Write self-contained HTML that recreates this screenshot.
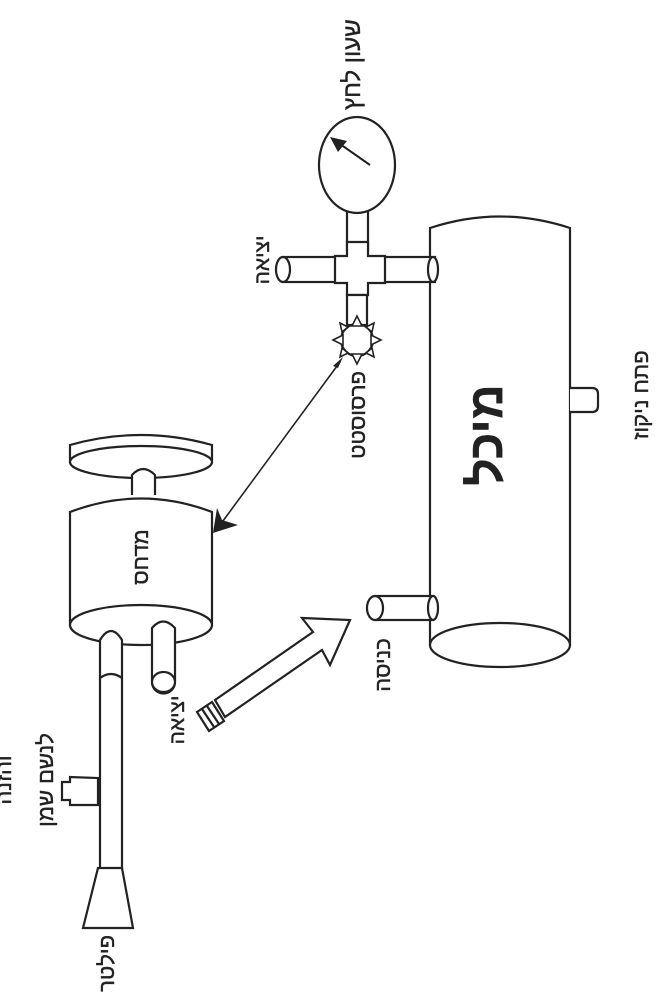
<!DOCTYPE html>
<html><head><meta charset="utf-8"><style>
html,body{margin:0;padding:0;background:#fff;}
svg{display:block}
text{font-family:"Liberation Sans","Noto Sans CJK JP",sans-serif;fill:#222;stroke:#222;stroke-width:0.4;}
</style></head><body>
<svg width="665" height="1000" viewBox="0 0 665 1000" xmlns="http://www.w3.org/2000/svg">
<g fill="#fff" stroke="#222" stroke-width="2.2">
<path d="M430,228 Q500,205 570,228 L570,645 L430,645 Z"/>
<ellipse cx="500" cy="645" rx="70" ry="22"/>
<path d="M570,388 L592,388 Q598,388 598,394 L598,406 Q598,412 592,412 L570,412"/>
<rect x="283" y="257" width="152" height="25"/>
<ellipse cx="433" cy="269.5" rx="5" ry="12.5"/>
<ellipse cx="283" cy="269.5" rx="7" ry="12.5"/>
<rect x="347" y="205" width="21" height="45"/>
<ellipse cx="357" cy="165" rx="38" ry="48"/>
<path d="M347,242 L368,242 L368,256 L385,256 L385,283 L368,283 L368,295 L347,295 L347,283 L335,283 L335,256 L347,256 Z"/>
<rect x="347" y="295" width="20" height="30"/>
<circle cx="357" cy="340" r="16"/>
<rect x="375" y="596" width="58" height="24"/>
<ellipse cx="433" cy="608" rx="5" ry="12"/>
<ellipse cx="375" cy="608" rx="8" ry="12"/>
<path d="M70,445 Q141,425 212,445 L212,462 L70,462 Z"/>
<ellipse cx="141" cy="462" rx="71" ry="16"/>
<path d="M132,495 L132,475 Q143,463 155,475 L155,495"/>
<path d="M70,512 Q141,485 212,512 L212,625 L70,625 Z"/>
<ellipse cx="141" cy="625" rx="71" ry="20"/>
<path d="M152,628 L152,682 A11.5,11.5 0 0 0 175,682 L175,628 Q163,615 152,628 Z"/>
<ellipse cx="163.5" cy="682" rx="11.5" ry="10"/>
<path d="M100,640 L100,870 L122,870 L122,640 Q111,622 100,640 Z"/>
<path d="M100,678 Q111,670 122,678"/>
<path d="M98,778 L98,805 L70,805 L70,800 L62,800 L62,782 L70,782 L70,777 Z"/>
<path d="M98,868 L122,868 L133,928 L83,928 Z"/>
<path d="M215,700 L313,632 L302,618 L350,620 L330,665 L322,650 L225,717 Z"/>
<path d="M197,712 L212,702 L224,721 L209,731 Z"/>
<path d="M202,709 L214,727 M207,706 L219,724"/>
</g>
<line x1="370" y1="165" x2="340" y2="144" stroke="#222" stroke-width="2"/>
<polygon points="330,137 347,141 338,152" fill="#222"/>
<g fill="#fff" stroke="#222" stroke-width="1.6">
<polygon points="357,316 352,326 362,326"/>
<polygon points="357,364 352,354 362,354"/>
<polygon points="333,340 343,335 343,345"/>
<polygon points="381,340 371,335 371,345"/>
<polygon points="340,323 348,327 342,332"/>
<polygon points="374,323 366,327 372,332"/>
<polygon points="340,357 348,353 342,348"/>
<polygon points="374,357 366,353 372,348"/>
</g>
<line x1="340" y1="362" x2="220" y2="525" stroke="#222" stroke-width="1.6"/>
<polygon points="343,357 333,366 338,368" fill="#222"/>
<polygon points="213,533 217,508 222,520 238,525" fill="#222"/>
<text transform="translate(352,110) rotate(-90)" text-anchor="start" font-size="24" dy="8">שעון לחץ</text>
<text transform="translate(262,260) rotate(-90)" text-anchor="middle" font-size="21" dy="7">יציאה</text>
<text transform="translate(357,415) rotate(-90)" text-anchor="middle" font-size="22" dy="8">פרסוסטט</text>
<text transform="translate(640,395) rotate(-90)" text-anchor="middle" font-size="22" dy="8">פתח ניקוז</text>
<text transform="translate(485,435) rotate(-90)" text-anchor="middle" font-size="48" font-weight="bold" dy="17">מיכל</text>
<text transform="translate(140,557) rotate(-90)" text-anchor="middle" font-size="22" dy="8">מדחס</text>
<text transform="translate(382,665) rotate(-90)" text-anchor="middle" font-size="22" dy="8">כניסה</text>
<text transform="translate(176,720) rotate(-90)" text-anchor="middle" font-size="21" dy="8">יציאה</text>
<text transform="translate(45,780) rotate(-90)" text-anchor="middle" font-size="22" dy="8">לנשם שמן</text>
<text transform="translate(3,780) rotate(-90)" text-anchor="middle" font-size="22" dy="8">והזנה</text>
<text transform="translate(106,935) rotate(-90)" text-anchor="end" font-size="22" dy="8">פילטר</text>
</svg>
</body></html>
